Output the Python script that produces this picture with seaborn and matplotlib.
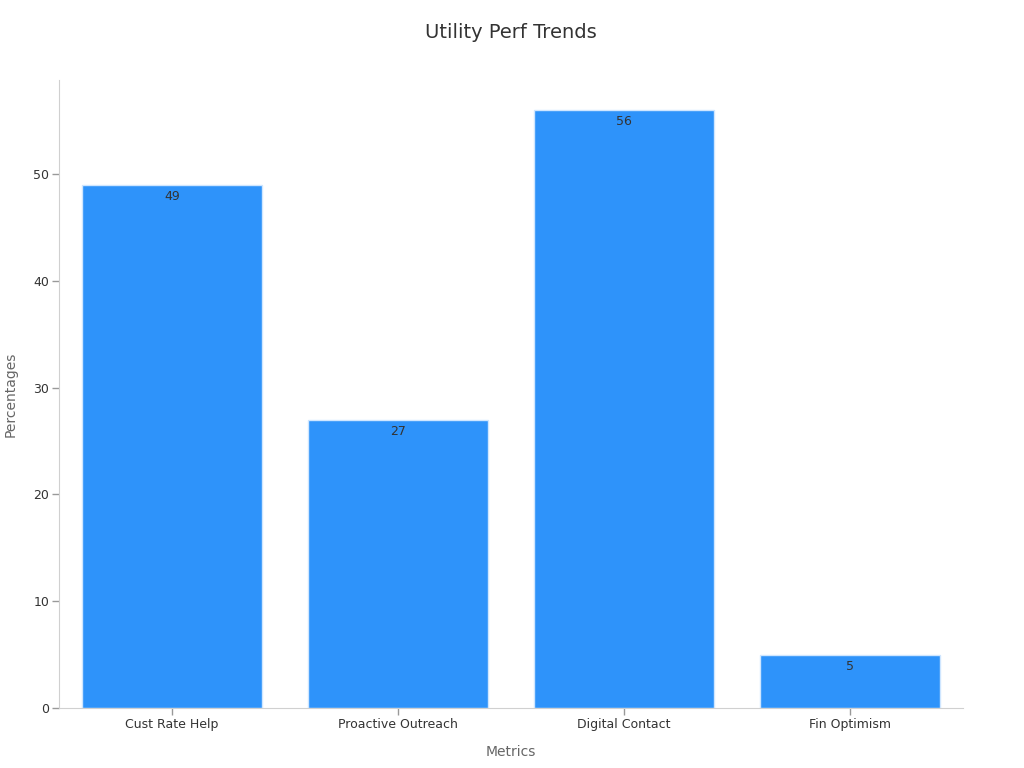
import pandas as pd
import seaborn as sns
import matplotlib.pyplot as plt

sns.set_style('white')
plt.rcParams['font.family'] = ['DejaVu Sans']

metrics = ['Cust Rate Help', 'Proactive Outreach', 'Digital Contact', 'Fin Optimism']
percentages = [49, 27, 56, 5]

df = pd.DataFrame({'Metrics': metrics, 'Percentages': percentages})

fig = plt.figure(figsize=(10.24, 7.68), dpi=100)
ax = fig.add_axes([0.0576, 0.078, 0.8828, 0.818])

sns.barplot(x='Metrics', y='Percentages', data=df, color='#2E93FA', saturation=1,
            width=0.8, edgecolor='#cfe6ff', linewidth=1, ax=ax)

for container in ax.containers:
    ax.bar_label(container, labels=[str(v) for v in percentages], padding=-13,
                 fontsize=9, color='#333333')

ax.set_xlim(-0.5, 3.5)
ax.set_ylim(0, 58.8)
ax.set_title('Utility Perf Trends', fontsize=14, color='#333333', pad=30)
ax.set_xlabel('Metrics', fontsize=10, color='#666666', labelpad=10)
ax.set_ylabel('Percentages', fontsize=10, color='#666666', labelpad=11)

sns.despine(ax=ax)
for side in ['left', 'bottom']:
    ax.spines[side].set_color('#d0d0d0')
ax.tick_params(axis='both', labelsize=9, colors='#333333', length=5, width=1,
               color='#999999', bottom=True, left=True, pad=2)

fig.savefig('out.png', dpi=100)
